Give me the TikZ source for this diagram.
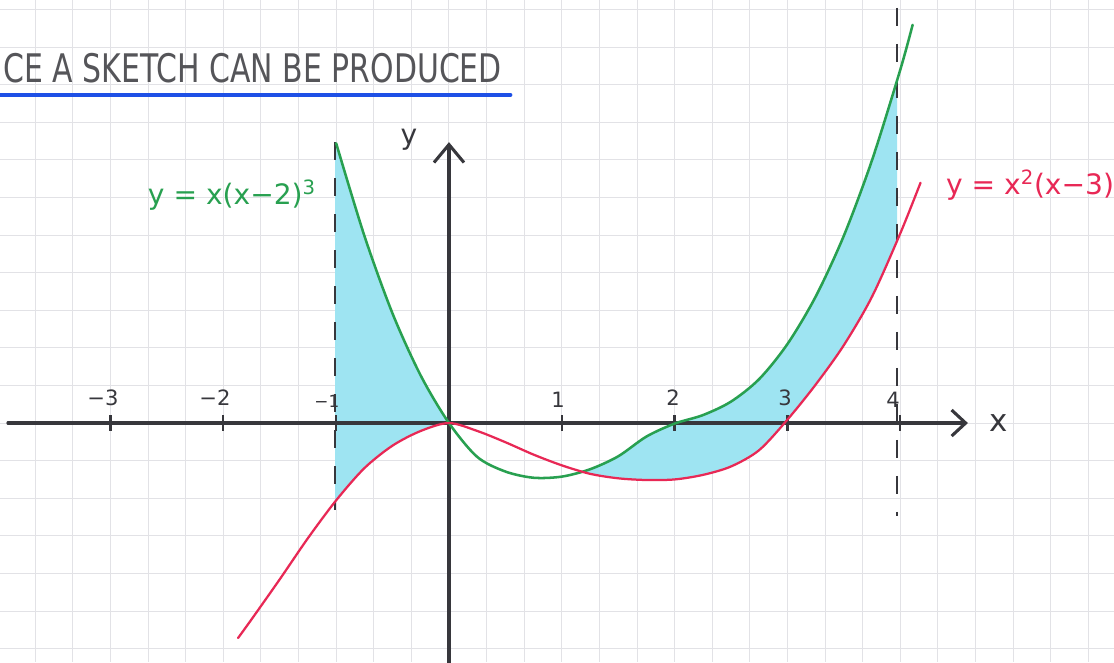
\documentclass[tikz,border=0pt]{standalone}
\usepackage{fontspec}
\setmainfont{DejaVu Sans}
\usetikzlibrary{positioning,arrows.meta}
\definecolor{sketchgreen}{RGB}{40,160,80}
\definecolor{sketchred}{RGB}{232,40,85}
\definecolor{sketchcyan}{RGB}{158,228,242}
\definecolor{sketchblue}{RGB}{30,80,230}
\definecolor{pencil}{RGB}{55,55,60}
\definecolor{paperline}{RGB}{226,226,230}

\begin{document}
\begin{tikzpicture}[
    x=2.82cm, y=2.82cm,
    every node/.style={font=\fontsize{15}{17}\selectfont, text=pencil, inner sep=1pt},
    gridline/.style={draw=paperline, line width=0.7pt},
    axis/.style={draw=pencil, line width=2.2pt, line cap=round},
    tickmark/.style={draw=pencil, line width=1.6pt},
    guide/.style={draw=pencil, line width=1.3pt, dash pattern=on 0.45cm off 0.45cm},
    greencurve/.style={draw=sketchgreen, line width=1.8pt, line cap=round},
    redcurve/.style={draw=sketchred, line width=1.6pt, line cap=round},
    region/.style={fill=sketchcyan, draw=none},
    underline/.style={draw=sketchblue, line width=3.5pt, line cap=round},
    curvelabel/.style={font=\fontsize{20}{22}\selectfont}
]
\useasboundingbox (-3.980,-2.119) rectangle (5.895,3.750);
\fill[white] (-3.980,-2.119) rectangle (5.895,3.750);

% Squared paper
\draw[gridline] (-3.980,-2.119) grid[step=0.33333] (5.895,3.750);

% Heading
\node[anchor=base west, xscale=0.76, font=\fontsize{28}{30}\selectfont, text=pencil!85] (title) at (-3.962,3.023) {CE A SKETCH CAN BE PRODUCED};
\coordinate (ulstart) at (-3.990,2.908);
\coordinate (ulend) at (0.541,2.908);
\draw[underline] (ulstart) -- (ulend);

% Shaded areas between the curves (x from -1 to 0, and from the crossing to 4)
\begin{scope}
\clip (-1.01,-3) rectangle (0,4) (1.16,-3) rectangle (3.972,4);
\fill[region] plot[smooth] coordinates {(-1,2.48) (-0.75,1.66) (-0.5,0.97) (-0.25,0.42) (0,0) (0.25,-0.30) (0.5,-0.43) (0.75,-0.485) (1,-0.475) (1.25,-0.41) (1.5,-0.295) (1.75,-0.12) (2,-0.005) (2.25,0.07) (2.5,0.19) (2.75,0.39) (3,0.70) (3.25,1.12) (3.5,1.66) (3.75,2.33) (4,3.13) (4.11,3.53)}
    -- plot[smooth] coordinates {(4.18,2.13) (4,1.68) (3.75,1.12) (3.5,0.69) (3.25,0.34) (3,0.03) (2.75,-0.24) (2.5,-0.385) (2.25,-0.46) (2,-0.50) (1.75,-0.505) (1.5,-0.49) (1.25,-0.45) (1,-0.375) (0.75,-0.28) (0.5,-0.17) (0.25,-0.07) (0,0) (-0.25,-0.07) (-0.5,-0.20) (-0.75,-0.40) (-1.0,-0.685) (-1.25,-1.02) (-1.5,-1.385) (-1.75,-1.74) (-1.87,-1.906)} -- cycle;
\end{scope}

% Axes
\coordinate (xstart) at (-3.910,0);
\coordinate (xtip) at (4.600,0);
\coordinate (ybottom) at (0,-2.130);
\coordinate (ytip) at (0,2.490);
\draw[axis, -{Straight Barb[length=3.5mm,width=6.5mm]}] (xstart) -- (xtip);
\draw[axis, -{Straight Barb[length=4.5mm,width=7.5mm]}] (ybottom) -- (ytip);
\node[right=0.5cm of xtip, font=\fontsize{22}{24}\selectfont] (xlabel) {x};
\node[above left=-0.25cm and 0.75cm of ytip, font=\fontsize{20}{22}\selectfont] (ylabel) {y};

% Ticks and numbers
\draw[tickmark] (-3,-0.07) -- (-3,0.07);
\draw[tickmark] (-2,-0.07) -- (-2,0.07);
\draw[tickmark] (-1,-0.07) -- (-1,0.07);
\draw[tickmark] (1,-0.07) -- (1,0.07);
\draw[tickmark] (2,-0.07) -- (2,0.07);
\draw[tickmark] (3,-0.07) -- (3,0.07);
\draw[tickmark] (4,-0.07) -- (4,0.07);
\node (mthree) at (-3.067,0.222) {−3};
\node (mtwo) at (-2.074,0.222) {−2};
\node[font=\fontsize{12}{14}\selectfont] (mone) at (-1.082,0.190) {−1};
\node (one) at (0.966,0.204) {1};
\node (two) at (1.986,0.222) {2};
\node (three) at (2.979,0.222) {3};
\node (four) at (3.936,0.204) {4};

% Limits of the area (dashed)
\coordinate (lefttop) at (-1.01,2.49);
\coordinate (leftbottom) at (-1.01,-0.77);
\coordinate (righttop) at (3.975,3.68);
\coordinate (rightbottom) at (3.975,-0.82);
\draw[guide] (lefttop) -- (leftbottom);
\draw[guide] (righttop) -- (rightbottom);

% The two curves
\draw[greencurve] plot[smooth] coordinates {(-1,2.48) (-0.75,1.66) (-0.5,0.97) (-0.25,0.42) (0,0) (0.25,-0.30) (0.5,-0.43) (0.75,-0.485) (1,-0.475) (1.25,-0.41) (1.5,-0.295) (1.75,-0.12) (2,-0.005) (2.25,0.07) (2.5,0.19) (2.75,0.39) (3,0.70) (3.25,1.12) (3.5,1.66) (3.75,2.33) (4,3.13) (4.11,3.53)};
\draw[redcurve] plot[smooth] coordinates {(-1.87,-1.906) (-1.75,-1.74) (-1.5,-1.385) (-1.25,-1.02) (-1.0,-0.685) (-0.75,-0.40) (-0.5,-0.20) (-0.25,-0.07) (0,0) (0.25,-0.07) (0.5,-0.17) (0.75,-0.28) (1,-0.375) (1.25,-0.45) (1.5,-0.49) (1.75,-0.505) (2,-0.50) (2.25,-0.46) (2.5,-0.385) (2.75,-0.24) (3,0.03) (3.25,0.34) (3.5,0.69) (3.75,1.12) (4,1.68) (4.18,2.13)};

% Curve labels
\node[curvelabel, text=sketchgreen] (greenlabel) at (-1.924,2.021) {y = x(x−2)\textsuperscript{3}};
\node[curvelabel, text=sketchred] (redlabel) at (5.151,2.110) {y = x\textsuperscript{2}(x−3)};

\end{tikzpicture}
\end{document}
